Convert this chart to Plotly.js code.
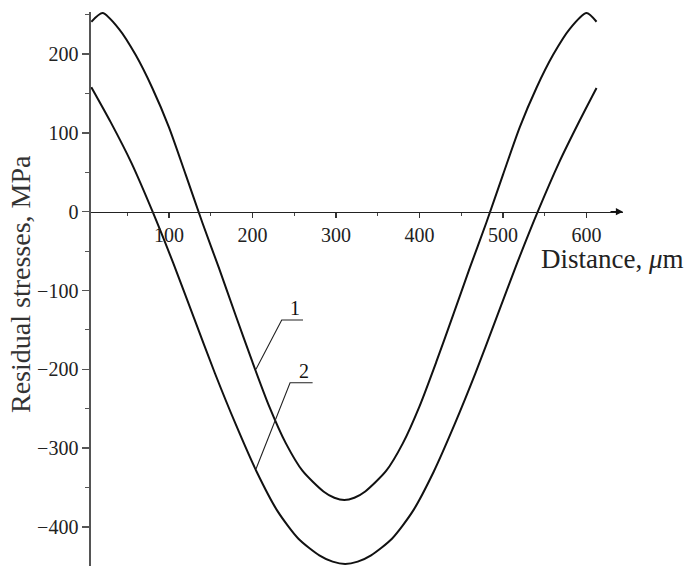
<!DOCTYPE html>
<html>
<head>
<meta charset="utf-8">
<script src="https://cdn.plot.ly/plotly-3.0.1.min.js"></script>
<style>
  html, body { margin: 0; padding: 0; background: #fff; }
  #chart { width: 685px; height: 566px; }
</style>
</head>
<body>
<div id="chart"></div>
<script>
// Curve 1 (Distance, µm  ->  Residual stress, MPa)
const x1 = [7, 20.5, 40, 60, 80, 100, 120, 140, 160, 180, 200, 220, 240, 260, 285, 298, 310, 322, 335, 360, 380, 400, 420, 440, 460, 480, 500, 520, 540, 560, 580, 600, 612];
const y1 = [241, 252, 232, 199, 157, 107, 47, -14, -72, -132, -191, -247, -294, -329, -355, -363, -366, -363, -355, -329, -294, -247, -191, -132, -72, -14, 47, 107, 157, 199, 232, 252, 241];
// Curve 2
const x2 = [7, 30, 55, 80, 105, 130, 155, 180, 205, 230, 255, 280, 296, 311, 326, 342, 367, 392, 417, 442, 467, 492, 517, 542, 567, 592, 612];
const y2 = [158, 114, 62, 1, -65, -135, -205, -270, -330, -380, -415, -436, -444, -447, -444, -436, -415, -380, -330, -270, -205, -135, -65, 1, 62, 116, 157];

const xTicks = [100, 200, 300, 400, 500, 600];
const yTicks = [-400, -300, -200, -100, 0, 100, 200];
const curveNames = ['1', '2'];

const xTitle = 'Distance, <i>μ</i>m';
const yTitle = 'Residual stresses, MPa';

const xRange = [6.6, 643.7];
const yRange = [-449.6, 253.4];
const zeroPos = (0 - yRange[0]) / (yRange[1] - yRange[0]);

const serif = 'Liberation Serif, Times New Roman, serif';

const lineStyle = { color: '#111', width: 2, shape: 'spline', smoothing: 0.7 };

const traces = [
  { x: x1, y: y1, mode: 'lines', line: lineStyle, name: curveNames[0], hoverinfo: 'x+y' },
  { x: x2, y: y2, mode: 'lines', line: lineStyle, name: curveNames[1], hoverinfo: 'x+y' }
];

const layout = {
  width: 685, height: 566,
  margin: { l: 91, r: 62, t: 12, b: 0, pad: 0 },
  paper_bgcolor: '#fff', plot_bgcolor: '#fff',
  showlegend: false,
  font: { family: serif, color: '#222', size: 20 },
  xaxis: {
    range: xRange,
    anchor: 'free', position: zeroPos,
    showgrid: false, zeroline: false,
    showline: true, linecolor: '#222', linewidth: 1.3,
    tickmode: 'array', tickvals: xTicks, ticktext: xTicks.map(String),
    ticks: 'outside', ticklen: 5, tickwidth: 1.2, tickcolor: '#333',
    minor: { dtick: 50, tick0: 0, ticks: 'outside', ticklen: 3, tickwidth: 1, tickcolor: '#444' },
    tickfont: { family: serif, size: 20, color: '#222' },
    fixedrange: true
  },
  yaxis: {
    range: yRange,
    showgrid: false, zeroline: false,
    showline: true, linecolor: '#555', linewidth: 1.6,
    tickmode: 'array', tickvals: yTicks, ticktext: yTicks.map(v => v < 0 ? '\u2212' + Math.abs(v) : String(v)),
    ticks: 'outside', ticklen: 7, tickwidth: 1.3, tickcolor: '#555',
    minor: { dtick: 50, tick0: 0, ticks: 'outside', ticklen: 4, tickwidth: 1, tickcolor: '#555' },
    tickfont: { family: serif, size: 20, color: '#222' },
    fixedrange: true
  },
  shapes: [
    { type: 'path', xref: 'x', yref: 'y', path: 'M 204.2,-200 L 235,-137.4 L 260.5,-137.4', line: { color: '#222', width: 1.1 } },
    { type: 'path', xref: 'x', yref: 'y', path: 'M 204.2,-326.5 L 245,-217 L 272,-217', line: { color: '#222', width: 1.1 } }
  ],
  annotations: [
    { x: 251, y: -137.4, xref: 'x', yref: 'y', text: curveNames[0], showarrow: false, yanchor: 'bottom', xanchor: 'center', yshift: -1,
      font: { family: serif, size: 20, color: '#111' } },
    { x: 262, y: -217, xref: 'x', yref: 'y', text: curveNames[1], showarrow: false, yanchor: 'bottom', xanchor: 'center', yshift: -1,
      font: { family: serif, size: 20, color: '#111' } },
    { x: xRange[1], y: 0, xref: 'x', yref: 'y', text: '', showarrow: true, ax: -14, ay: 0,
      arrowhead: 2, arrowsize: 1.1, arrowwidth: 1.3, arrowcolor: '#111' },
    { x: (539 - 91) / 532, y: (566 - 259) / 554, xref: 'paper', yref: 'paper', text: xTitle, showarrow: false,
      xanchor: 'left', yanchor: 'middle', font: { family: serif, size: 27, color: '#222' } },
    { x: (20 - 91) / 532, y: (566 - 284) / 554, xref: 'paper', yref: 'paper', text: yTitle, showarrow: false,
      textangle: -90, xanchor: 'center', yanchor: 'middle', font: { family: serif, size: 28, color: '#333' } }
  ]
};

Plotly.newPlot('chart', traces, layout, { displayModeBar: false, staticPlot: true });
</script>
</body>
</html>
